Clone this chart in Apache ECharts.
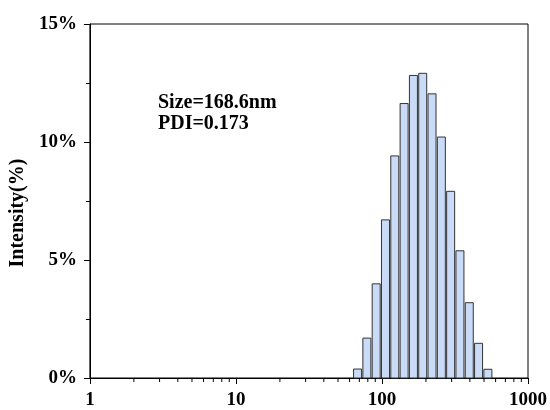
<!DOCTYPE html>
<html>
<head>
<meta charset="utf-8">
<script src="https://cdn.jsdelivr.net/npm/echarts@6/dist/echarts.min.js"></script>
<style>
  html, body { margin: 0; padding: 0; background: #fff; }
  #chart { width: 550px; height: 410px; }
</style>
</head>
<body>
<div id="chart"></div>
<script>
// particle size bins (nm) and intensity (%)
const sizes = [68.06, 78.82, 91.28, 105.7, 122.4, 141.8, 164.2, 190.1, 220.2, 255.0, 295.3, 342.0, 396.1, 458.7, 531.2]
const intensity = [0.38, 1.69, 3.99, 6.70, 9.41, 11.63, 12.82, 12.91, 12.04, 10.21, 7.91, 5.39, 3.19, 1.47, 0.37]
const minorTicks = [2, 3, 4, 5, 6, 7, 8, 9, 20, 30, 40, 50, 60, 70, 80, 90, 200, 300, 400, 500, 600, 700, 800, 900]
const notes = ['Size=168.6nm', 'PDI=0.173']

const font = '"Liberation Serif", "Times New Roman", serif'
const chart = echarts.init(document.getElementById('chart'))

const data = sizes.map((s, i) => [s, intensity[i]])

const option = {
  animation: false,
  backgroundColor: '#fff',
  grid: {
    left: 87,
    right: 20,
    top: 24,
    bottom: 30,
    show: true,
    borderColor: '#000',
    borderWidth: 1
  },
  xAxis: {
    type: 'log',
    logBase: 10,
    min: 1,
    max: 1000,
    axisLine: { show: true, lineStyle: { color: '#000', width: 1 } },
    axisTick: { show: true, length: 6, lineStyle: { color: '#000' } },
    axisLabel: {
      formatter: (v) => String(Math.round(v)),
      margin: 13,
      color: '#000',
      fontFamily: font,
      fontWeight: 'bold',
      fontSize: 19
    },
    splitLine: { show: false }
  },
  yAxis: {
    type: 'value',
    min: 0,
    max: 15,
    interval: 5,
    name: 'Intensity(%)',
    nameLocation: 'middle',
    nameGap: 55,
    nameTextStyle: {
      color: '#000',
      fontFamily: font,
      fontWeight: 'bold',
      fontSize: 20,
      padding: [0, 24, 0, 0]
    },
    axisLine: { show: true, lineStyle: { color: '#000', width: 1 } },
    axisTick: { show: true, length: 6, lineStyle: { color: '#000' } },
    minorTick: { show: true, splitNumber: 2, length: 4, lineStyle: { color: '#000' } },
    axisLabel: {
      formatter: '{value}%',
      margin: 13,
      color: '#000',
      fontFamily: font,
      fontWeight: 'bold',
      fontSize: 19
    },
    splitLine: { show: false }
  },
  graphic: [
    {
      type: 'text',
      left: 158,
      top: 92,
      style: {
        text: notes.join('\n'),
        font: 'bold 20px ' + font,
        lineHeight: 21,
        fill: '#000'
      }
    }
  ],
  series: [
    {
      type: 'custom',
      data: data,
      renderItem: function (params, api) {
        const top = api.coord([api.value(0), api.value(1)])
        const base = api.coord([api.value(0), 0])
        const w = 8
        return {
          type: 'rect',
          shape: { x: top[0] - w / 2, y: top[1], width: w, height: base[1] - top[1] },
          style: { fill: '#c9dbf7', stroke: '#333', lineWidth: 1 }
        }
      }
    },
    {
      // minor ticks of the log axis (2..9 in each decade)
      type: 'custom',
      clip: false,
      silent: true,
      data: minorTicks.map(v => [v, 0]),
      renderItem: function (params, api) {
        const p = api.coord([api.value(0), 0])
        return {
          type: 'line',
          shape: { x1: p[0], y1: p[1], x2: p[0], y2: p[1] + 4 },
          style: { stroke: '#000', lineWidth: 1 }
        }
      }
    }
  ]
}

chart.setOption(option)
</script>
</body>
</html>
